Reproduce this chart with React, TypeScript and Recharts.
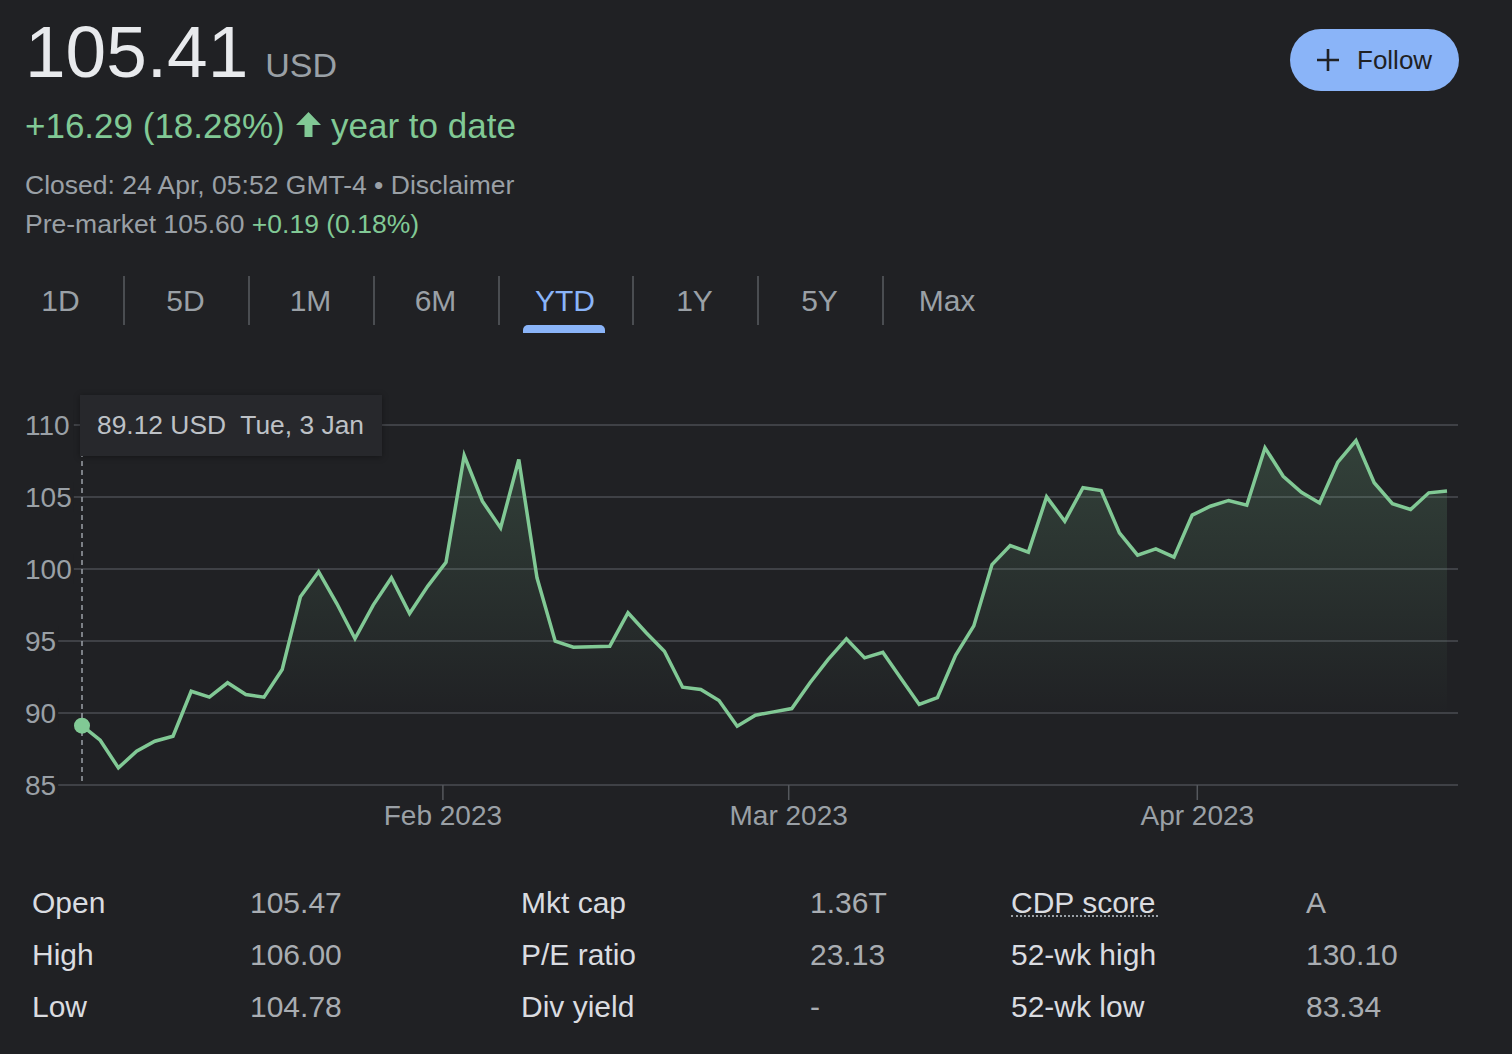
import React from "react";
import { AreaChart, Area, XAxis, YAxis, CartesianGrid, Tooltip } from "recharts";

// trading days, 3 Jan - 21 Apr 2023
const tradingDays = [
  "2023-01-03", "2023-01-04", "2023-01-05", "2023-01-06", "2023-01-09", "2023-01-10", "2023-01-11",
  "2023-01-12", "2023-01-13", "2023-01-17", "2023-01-18", "2023-01-19", "2023-01-20", "2023-01-23",
  "2023-01-24", "2023-01-25", "2023-01-26", "2023-01-27", "2023-01-30", "2023-01-31",
  "2023-02-01", "2023-02-02", "2023-02-03", "2023-02-06", "2023-02-07", "2023-02-08", "2023-02-09",
  "2023-02-10", "2023-02-13", "2023-02-14", "2023-02-15", "2023-02-16", "2023-02-17", "2023-02-21",
  "2023-02-22", "2023-02-23", "2023-02-24", "2023-02-27", "2023-02-28",
  "2023-03-01", "2023-03-02", "2023-03-03", "2023-03-06", "2023-03-07", "2023-03-08", "2023-03-09",
  "2023-03-10", "2023-03-13", "2023-03-14", "2023-03-15", "2023-03-16", "2023-03-17", "2023-03-20",
  "2023-03-21", "2023-03-22", "2023-03-23", "2023-03-24", "2023-03-27", "2023-03-28", "2023-03-29",
  "2023-03-30", "2023-03-31",
  "2023-04-03", "2023-04-04", "2023-04-05", "2023-04-06", "2023-04-10", "2023-04-11", "2023-04-12",
  "2023-04-13", "2023-04-14", "2023-04-17", "2023-04-18", "2023-04-19", "2023-04-20", "2023-04-21",
];

const closes = [
  89.12, 88.11, 86.19, 87.35, 88.04, 88.39, 91.51, 91.1, 92.1, 91.28, 91.1, 93.02, 98.07, 99.81,
  97.6, 95.17, 97.49, 99.39, 96.91, 98.81,
  100.47, 107.88, 104.71, 102.85, 107.6, 99.39, 94.99, 94.57, 94.6, 94.64, 96.96, 95.57, 94.29,
  91.79, 91.63, 90.87, 89.08, 89.85, 90.08,
  90.31, 92.1, 93.72, 95.15, 93.83, 94.22, 92.4, 90.59, 91.06, 94.0, 96.05, 100.31, 101.63, 101.17,
  105.01, 103.32, 105.64, 105.45, 102.51, 100.96, 101.4, 100.82,
  103.74, 104.36, 104.76, 104.43, 108.42, 106.44, 105.33, 104.59, 107.42, 108.92, 105.99, 104.53,
  104.13, 105.29, 105.41,
];

const priceTicks = [85, 90, 95, 100, 105, 110];
// month starts, placed between trading days (in trading-day index units)
const monthTickIdx = [19.83, 38.83, 61.28];
const monthTickLabels = ["Feb 2023", "Mar 2023", "Apr 2023"];

const ranges = ["1D", "5D", "1M", "6M", "YTD", "1Y", "5Y", "Max"];
const activeRange = "YTD";

const statLabels = [
  ["Open", "High", "Low"],
  ["Mkt cap", "P/E ratio", "Div yield"],
  ["CDP score", "52-wk high", "52-wk low"],
];
const statValues = [
  ["105.47", "106.00", "104.78"],
  ["1.36T", "23.13", "-"],
  ["A", "130.10", "83.34"],
];

const BG = "#202124";
const GREEN = "#81c995";
const GREY = "#9aa0a6";
const BLUE = "#8ab4f8";
const FONT = "'Liberation Sans', Arial, Helvetica, sans-serif";

const WD = ["Sun", "Mon", "Tue", "Wed", "Thu", "Fri", "Sat"];
const MO = ["Jan", "Feb", "Mar", "Apr", "May", "Jun", "Jul", "Aug", "Sep", "Oct", "Nov", "Dec"];
function fmtDay(iso: string) {
  const d = new Date(iso + "T00:00:00Z");
  return `${WD[d.getUTCDay()]}, ${d.getUTCDate()} ${MO[d.getUTCMonth()]}`;
}

const data = tradingDays.map((date, i) => ({ i, date, close: closes[i] }));

if (typeof document !== "undefined") {
  document.body.style.margin = "0";
  document.body.style.background = BG;
}

function PriceTick(props: any) {
  const { x, y, payload } = props;
  const label = String(payload.value);
  const w = label.length * 15.6 + 2;
  return (
    <g>
      <rect x={x} y={y - 15} width={w} height={30} fill={BG} />
      <text x={x} y={y} dy={10} fill={GREY} fontSize={28} fontFamily={FONT} textAnchor="start">
        {label}
      </text>
    </g>
  );
}

function TipBox({ active, payload }: any) {
  if (!active || !payload || !payload.length) return null;
  const p = payload[0];
  return (
    <div
      style={{
        background: "#27282c",
        color: "#bdc1c6",
        fontFamily: FONT,
        fontSize: 26.4,
        height: 61,
        lineHeight: "61px",
        padding: "0 18px 0 17px",
        whiteSpace: "pre",
        boxShadow: "0 1px 6px rgba(0,0,0,0.35)",
      }}
    >
      {`${Number(p.value).toFixed(2)} USD  ${fmtDay(p.payload.date)}`}
    </div>
  );
}

const tabEdges = [-2, 123, 248, 373, 498, 632, 757, 882, 1012];
const statCols = [32, 250, 521, 810, 1011, 1306];
const statBaselines = [913, 965, 1017];

export default function App() {
  const abs = (left: number, top: number, extra: React.CSSProperties = {}): React.CSSProperties => ({
    position: "absolute",
    left,
    top,
    lineHeight: 1,
    whiteSpace: "nowrap",
    ...extra,
  });

  return (
    <div
      style={{
        position: "relative",
        width: 1512,
        height: 1054,
        background: BG,
        overflow: "hidden",
        fontFamily: FONT,
      }}
    >
      {/* price header */}
      <div style={abs(25, 77 - 0.8465 * 73, { fontSize: 73, color: "#e8eaed" })}>
        105.41
        <span style={{ fontSize: 34, color: GREY, marginLeft: 17 }}>USD</span>
      </div>
      <div style={abs(25, 138 - 0.8465 * 35, { fontSize: 35, color: GREEN })}>+16.29 (18.28%)</div>
      <svg style={{ position: "absolute", left: 296, top: 112 }} width={25} height={25}>
        <polygon points="0,13 12.5,0 25,13 16.5,13 16.5,25 8.5,25 8.5,13" fill={GREEN} />
      </svg>
      <div style={abs(331, 138 - 0.8465 * 35, { fontSize: 35, color: GREEN })}>year to date</div>
      <div style={abs(25, 194 - 0.8465 * 26.5, { fontSize: 26.5, color: GREY })}>
        Closed: 24 Apr, 05:52 GMT-4 • Disclaimer
      </div>
      <div style={abs(25, 233.5 - 0.8465 * 26.5, { fontSize: 26.5, color: GREY })}>
        Pre-market 105.60 <span style={{ color: GREEN }}>+0.19 (0.18%)</span>
      </div>

      {/* follow button */}
      <div
        style={{
          position: "absolute",
          left: 1290,
          top: 29,
          width: 169,
          height: 62,
          borderRadius: 31,
          background: BLUE,
        }}
      />
      <svg style={{ position: "absolute", left: 1316, top: 48 }} width={24} height={24}>
        <path d="M12 1 V23 M1 12 H23" stroke={BG} strokeWidth={2.6} fill="none" />
      </svg>
      <div style={abs(1357, 69 - 0.8465 * 26, { fontSize: 26, color: BG })}>Follow</div>

      {/* range tabs */}
      {ranges.map((r, k) => (
        <div
          key={r}
          style={abs(tabEdges[k], 311 - 0.8465 * 30, {
            width: tabEdges[k + 1] - tabEdges[k],
            textAlign: "center",
            fontSize: 30,
            color: r === activeRange ? BLUE : GREY,
          })}
        >
          {r}
        </div>
      ))}
      {tabEdges.slice(1, -1).map((x) => (
        <div key={x} style={{ position: "absolute", left: x, top: 276, width: 1.5, height: 49, background: "#4a4d51" }} />
      ))}
      <div
        style={{
          position: "absolute",
          left: 523,
          top: 325,
          width: 82,
          height: 8,
          borderRadius: "5px 5px 0 0",
          background: BLUE,
        }}
      />

      {/* chart */}
      <div style={{ position: "absolute", left: 0, top: 370 }}>
        <AreaChart width={1512} height={490} data={data} margin={{ top: 55, right: 54, bottom: 0, left: 25 }}>
          <defs>
            <linearGradient id="fillGrad" x1="0" y1="0" x2="0" y2="1">
              <stop offset="0" stopColor={GREEN} stopOpacity={0.32} />
              <stop offset="0.8" stopColor={GREEN} stopOpacity={0} />
            </linearGradient>
          </defs>
          <CartesianGrid vertical={false} stroke="#4a4d52" strokeWidth={1.5} />
          <XAxis
            type="number"
            dataKey="i"
            domain={[0, tradingDays.length - 1]}
            ticks={monthTickIdx}
            interval={0}
            tickFormatter={(v: number, k: number) => monthTickLabels[k]}
            padding={{ left: 57, right: 11 }}
            axisLine={false}
            tickLine={{ stroke: "#55585d", strokeWidth: 1.5 }}
            tickSize={15}
            tickMargin={5}
            height={75}
            tick={{ fill: GREY, fontSize: 28, fontFamily: FONT }}
          />
          <YAxis
            domain={[85, 110]}
            ticks={priceTicks}
            interval={0}
            mirror
            width={60}
            axisLine={false}
            tickLine={false}
            tickSize={0}
            tickMargin={0}
            tick={(p: any) => <PriceTick {...p} />}
          />
          <Tooltip
            active
            defaultIndex={0}
            position={{ x: 80, y: 25 }}
            cursor={{ stroke: GREY, strokeWidth: 1.5, strokeDasharray: "5 4" }}
            content={<TipBox />}
            isAnimationActive={false}
            wrapperStyle={{ outline: "none" }}
          />
          <Area
            type="linear"
            dataKey="close"
            stroke={GREEN}
            strokeWidth={3.5}
            fill="url(#fillGrad)"
            dot={false}
            activeDot={{ r: 8, fill: GREEN, stroke: "none" }}
            isAnimationActive={false}
          />
        </AreaChart>
      </div>

      {/* key stats */}
      {statLabels.map((col, c) =>
        col.map((label, r) => (
          <React.Fragment key={label}>
            <div style={abs(statCols[c * 2], statBaselines[r] - 0.8465 * 30, { fontSize: 30, color: "#dadce0" })}>
              {label}
            </div>
            <div style={abs(statCols[c * 2 + 1], statBaselines[r] - 0.8465 * 30, { fontSize: 30, color: "#a9adb2" })}>
              {statValues[c][r]}
            </div>
          </React.Fragment>
        ))
      )}
      <div
        style={{
          position: "absolute",
          left: 1011,
          top: 915,
          width: 147,
          height: 0,
          borderBottom: "2px dotted #9aa0a6",
        }}
      />
    </div>
  );
}
